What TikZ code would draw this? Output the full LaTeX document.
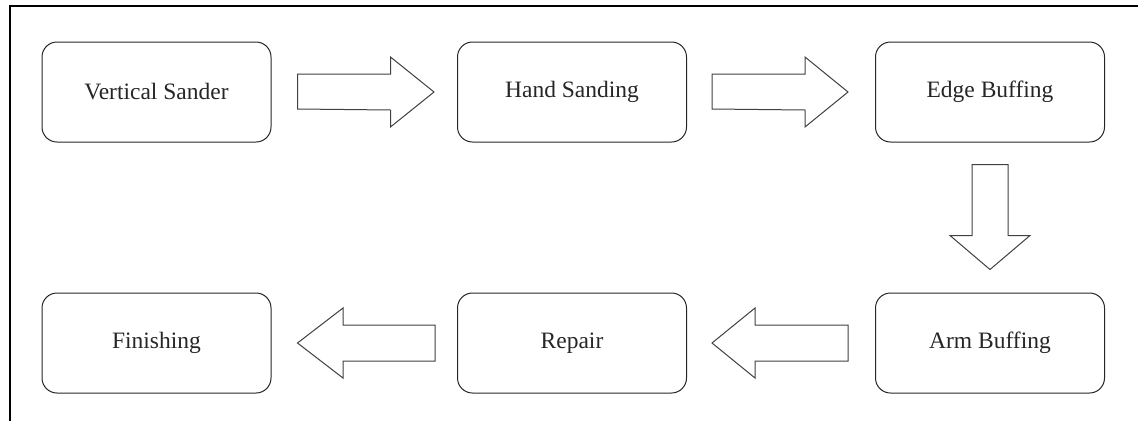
\documentclass[tikz,border=0pt]{standalone}
\usepackage{fontspec}
\setmainfont{Liberation Serif}
\usetikzlibrary{calc}
\begin{document}
\begin{tikzpicture}[x=1pt,y=-1pt,
  stepbox/.style={draw=black!85,line width=1pt,rounded corners=15pt,
    minimum width=229pt,minimum height=100pt,inner sep=0pt,
    font=\fontsize{23.5}{28}\selectfont,text=black!85},
  flowarrow/.style={draw=black!75,line width=1pt,fill=white,line join=miter}]
\useasboundingbox (0,0) rectangle (1138,421);
% frame: top and left edges
\draw[line width=1.2pt,black] (1138,6) -- (10,6) -- (10,421);
% process steps
\node[stepbox] (vs) at (156.5,92) {Vertical Sander};
\node[stepbox] (hs) at (572,92) {Hand Sanding};
\node[stepbox] (eb) at (990,92) {Edge Buffing};
\node[stepbox] (ab) at (990,343) {Arm Buffing};
\node[stepbox] (rp) at (572,343) {Repair};
\node[stepbox] (fn) at (156.5,343) {Finishing};
% block arrows between steps (drawn relative to the step boxes)
\draw[flowarrow] ($(vs.east)+(26,-18)$) -- ++(93,0) -- ++(0,-17) -- ($(hs.west)+(-23,0)$)
  -- ($(vs.east)+(119,35)$) -- ++(0,-17) -- ($(vs.east)+(26,17)$) -- cycle;
\draw[flowarrow] ($(hs.east)+(25,-18)$) -- ++(93,0) -- ++(0,-17) -- ($(eb.west)+(-27,0)$)
  -- ($(hs.east)+(118,35)$) -- ++(0,-17) -- ($(hs.east)+(25,17)$) -- cycle;
\draw[flowarrow] ($(eb.south)+(-18,22)$) -- ++(36,0) -- ++(0,71) -- ++(22,0) -- ($(ab.north)+(0,-23)$)
  -- ($(eb.south)+(-40,93)$) -- ++(22,0) -- cycle;
\draw[flowarrow] ($(ab.west)+(-27,-18)$) -- ++(-93,0) -- ++(0,-17) -- ($(rp.east)+(25,0)$)
  -- ($(ab.west)+(-120,35)$) -- ++(0,-17) -- ($(ab.west)+(-27,18)$) -- cycle;
\draw[flowarrow] ($(rp.west)+(-22,-18)$) -- ++(-92,0) -- ++(0,-17) -- ($(fn.east)+(26,0)$)
  -- ($(rp.west)+(-114,35)$) -- ++(0,-17) -- ($(rp.west)+(-22,18)$) -- cycle;
\end{tikzpicture}
\end{document}
